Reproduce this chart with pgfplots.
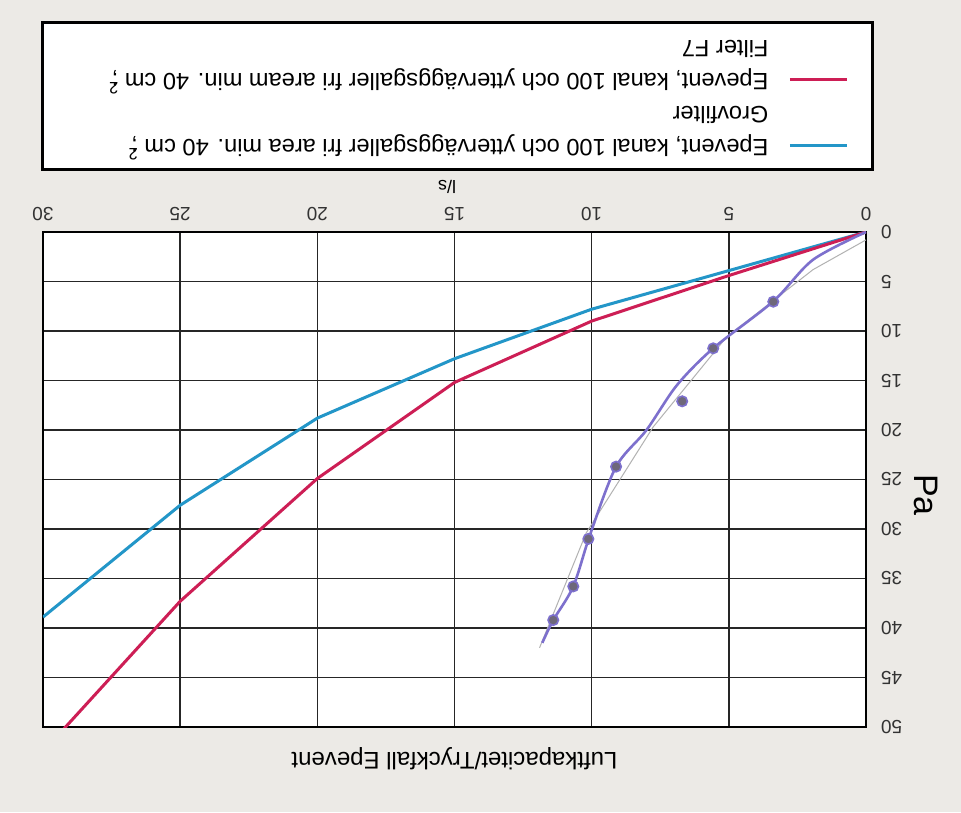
\documentclass[border=0pt]{standalone}
\usepackage{pgfplots}
\pgfplotsset{compat=1.18}
\usepackage{fontspec}
\setmainfont{Liberation Sans}
\definecolor{paper}{RGB}{236,234,230}
\definecolor{cblue}{RGB}{35,150,200}
\definecolor{cred}{RGB}{205,30,85}
\definecolor{cpurple}{RGB}{125,112,205}
\definecolor{cdot}{RGB}{110,104,122}
\begin{document}
\begin{tikzpicture}
\fill[paper] (0pt,0pt) rectangle (480.5pt,406pt);
\begin{axis}[
  at={(227.25pt,166.25pt)}, anchor=center,
  width=411.5pt, height=247.5pt, scale only axis,
  x dir=reverse, y dir=reverse,
  xmin=0, xmax=30, ymin=0, ymax=50,
  xtick={0,5,...,30}, ytick={0,5,...,50},
  xticklabel pos=right, yticklabel pos=right,
  xticklabel shift=2pt, yticklabel shift=4pt,
  major tick length=0pt,
  grid=major,
  grid style={black!85, line width=0.75pt},
  axis line style={black, line width=1.4pt},
  axis background/.style={fill=white},
  /pgf/number format/assume math mode=true,
  tick label style={font=\fontsize{9.5}{11}\selectfont, rotate=180, text=black!80},
  xlabel={l/s},
  xlabel style={at={(axis description cs:0.491,1.091)}, anchor=center, rotate=180, font=\fontsize{9}{10}\selectfont},
  ylabel={Pa},
  ylabel style={at={(axis description cs:1.073,0.469)}, anchor=center, rotate=180, font=\fontsize{17}{20}\selectfont},
  title={Luftkapacitet/Tryckfall Epevent},
  title style={at={(axis description cs:0.5,-0.089)}, anchor=center, rotate=180, font=\fontsize{12}{14}\selectfont},
  legend style={at={(axis description cs:0.5036,1.275)}, anchor=center,
     draw=black, line width=1.3pt, fill=white, font=\fontsize{11.8}{14}\selectfont,
     inner xsep=12pt, inner ysep=6pt, row sep=4.5pt, column sep=10pt,
     nodes={rotate=180, inner xsep=0pt, inner ysep=0pt, text height=9pt, text depth=3pt}},
  legend cell align=left,
  legend plot pos=right,
  reverse legend,
  legend image code/.code={\draw[#1, line width=1.5pt] (0pt,0pt) -- (28.5pt,0pt);},
]
\addplot[cblue, line width=1.5pt] coordinates {(0,0) (5,3.9) (10,7.8) (15,12.8) (20,18.8) (25,27.6) (30,38.9)};
\addlegendentry{\makebox[351pt][l]{Epevent, kanal 100 och ytterväggsgaller fri area min. 40 cm \rlap{\textsuperscript{2}};}}
\addlegendimage{empty legend}
\addlegendentry{\makebox[351pt][l]{Grovfilter}}
\addplot[cred, line width=1.5pt] coordinates {(0,0) (5,4.4) (10,9.0) (15,15.2) (20,24.9) (25,37.3) (30,52.5)};
\addlegendentry{\makebox[351pt][l]{Epevent, kanal 100 och ytterväggsgaller fri aream min. 40 cm \rlap{\textsuperscript{2}};}}
\addlegendimage{empty legend}
\addlegendentry{\makebox[351pt][l]{Filter F7}}
\addplot[gray!60, line width=0.5pt, forget plot] coordinates {(0,0.8) (1.93,3.8) (5.08,10.6) (7.76,19.7) (10.2,30.4) (11.9,42.0)};
\addplot[cpurple, line width=1.3pt, smooth, forget plot] coordinates {(0,0) (1.93,2.8) (3.38,7.0) (5.57,11.75) (6.9,15.5) (8.0,20) (9.11,23.7) (10.05,30.5) (10.67,35.8) (11.4,39.2) (11.8,41.5)};
\addplot[only marks, mark=*, mark size=2.6pt, mark options={fill=cdot, draw=cpurple, line width=0.8pt}, forget plot] coordinates {(3.38,7.04) (5.57,11.75) (6.70,17.1) (9.11,23.7) (10.12,31.0) (10.67,35.8) (11.4,39.2)};
\end{axis}
\end{tikzpicture}
\end{document}
